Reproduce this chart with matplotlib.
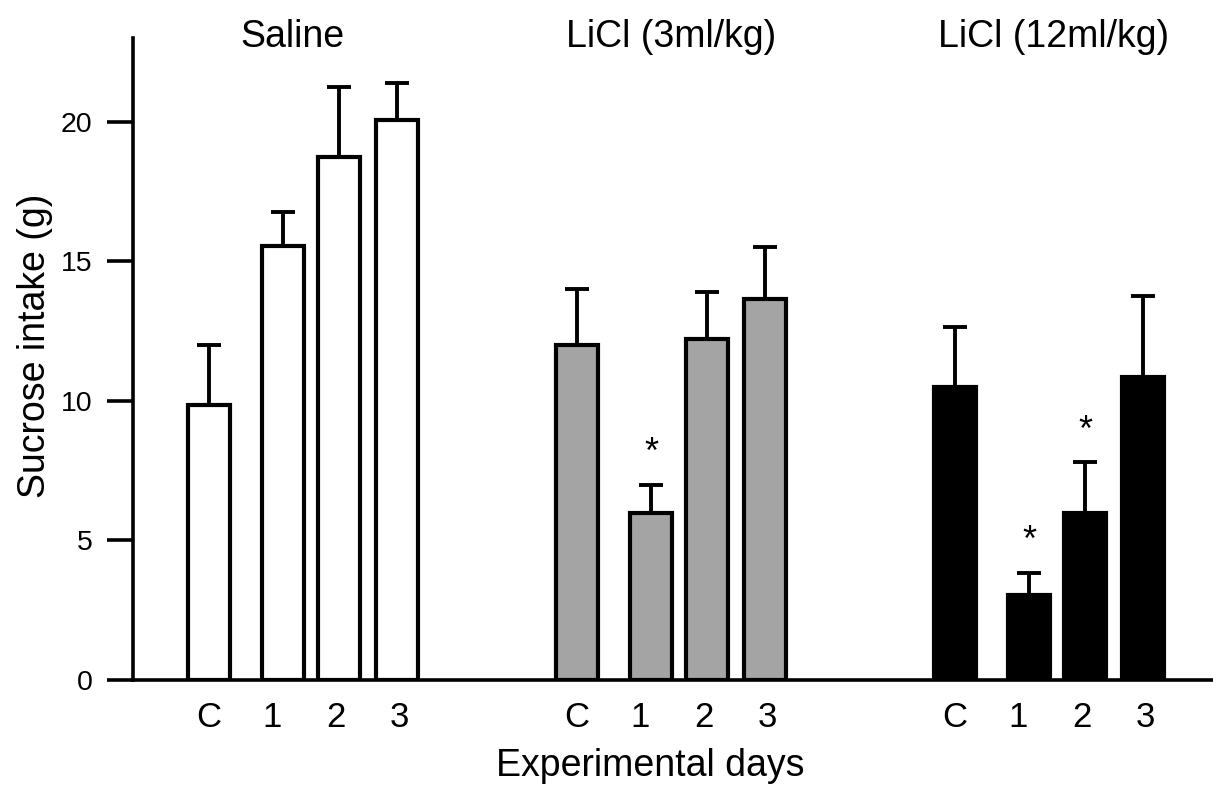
import matplotlib
matplotlib.use("Agg")
import matplotlib.pyplot as plt
import numpy as np

plt.rcParams['font.family'] = ['Liberation Sans', 'DejaVu Sans']

# data
groups = ["Saline", "LiCl (3ml/kg)", "LiCl (12ml/kg)"]
days = ["C", "1", "2", "3"]
saline_mean = [9.85, 15.55, 18.75, 20.05]
saline_sem = [2.15, 1.2, 2.5, 1.35]
licl3_mean = [12.0, 6.0, 12.2, 13.65]
licl3_sem = [2.0, 1.0, 1.7, 1.85]
licl12_mean = [10.5, 3.05, 6.0, 10.85]
licl12_sem = [2.15, 0.8, 1.8, 2.9]
# significance marks (group index, day index)
signif = [(1, 1), (2, 1), (2, 2)]

means = [saline_mean, licl3_mean, licl12_mean]
sems = [saline_sem, licl3_sem, licl12_sem]
fills = ["white", "#a4a4a4", "black"]

# layout (x units ~ pixels)
group_start = [209, 577, 955]
bar_offsets = [0, 74, 130, 188]
label_offsets = [0, 63, 127, 190]
title_x = [292, 671, 1054]
bar_w = 42

fig = plt.figure(figsize=(12.13, 7.85), dpi=100)
ax = fig.add_axes([133/1213, 1 - 680/785, 1 - 133/1213, (680 - 38)/785])

tick_pos, tick_lab = [], []
for g in range(3):
    xs = [group_start[g] + o for o in bar_offsets]
    ax.bar(xs, means[g], width=bar_w, color=fills[g], edgecolor="black",
           linewidth=3, zorder=3)
    ax.errorbar(xs, means[g], yerr=[np.zeros(4), sems[g]], fmt="none",
                ecolor="black", elinewidth=2.8, capsize=8.5, capthick=2.8, zorder=2)
    tick_pos += [group_start[g] + o for o in label_offsets]
    tick_lab += days
    ax.text(title_x[g], 22.68, groups[g], ha="center", va="baseline", fontsize=27)

# asterisks sit just above the error bar caps
for g, d in signif:
    x = group_start[g] + bar_offsets[d]
    y = means[g][d] + sems[g][d] + 1.1
    ax.text(x, y, "*", ha="center", va="center", fontsize=26)

ax.set_xlim(133, 1213)
ax.set_ylim(0, 23)
ax.set_yticks([0, 5, 10, 15, 20])
ax.set_xticks(tick_pos)
ax.set_xticklabels(tick_lab, fontsize=25)
ax.tick_params(axis="x", length=0, pad=15)
ax.tick_params(axis="y", length=19, width=2.6, labelsize=20.5, pad=10)

for s in ["top", "right"]:
    ax.spines[s].set_visible(False)
for s in ["left", "bottom"]:
    ax.spines[s].set_linewidth(2.6)

ax.set_ylabel("Sucrose intake (g)", fontsize=27)
ax.yaxis.set_label_coords(-0.074, 0.52)
ax.set_xlabel("Experimental days", fontsize=27, va="baseline")
ax.xaxis.set_label_coords(0.479, -0.15)

fig.savefig("out.png", dpi=100)
